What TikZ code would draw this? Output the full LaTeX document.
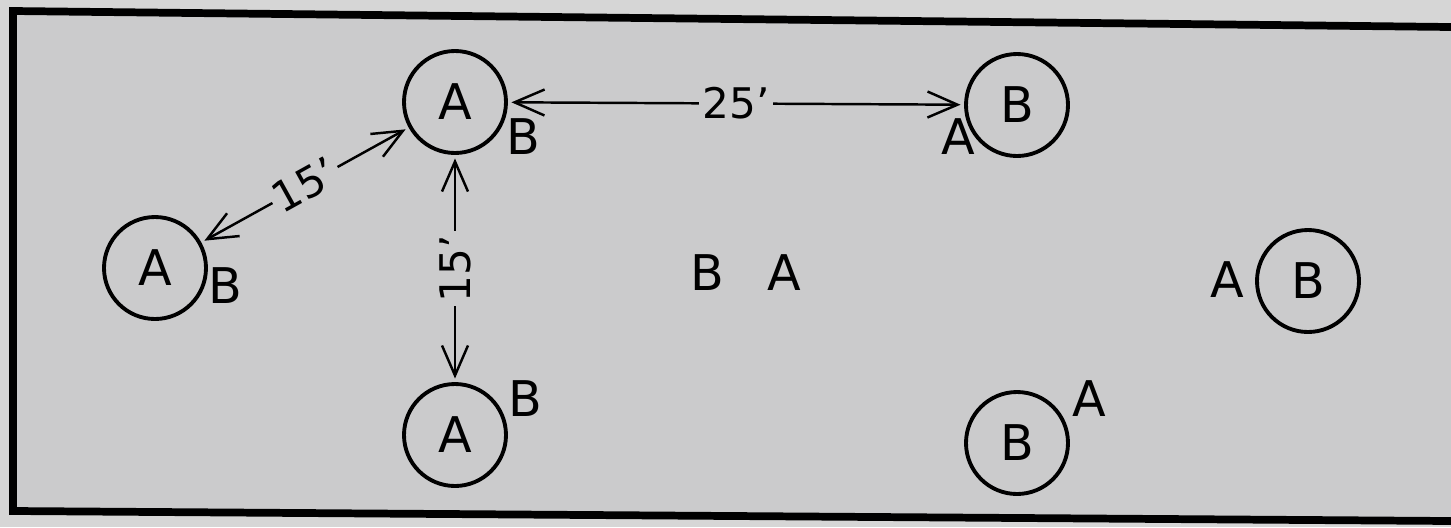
\documentclass[tikz,border=0pt]{standalone}
\usepackage{fontspec}
\setmainfont{DejaVu Sans}
\usetikzlibrary{arrows.meta,positioning}
\definecolor{paper}{RGB}{214,214,214}
\definecolor{board}{RGB}{203,203,204}

\begin{document}
\begin{tikzpicture}[
    player/.style={circle, draw, line width=1.1pt, minimum size=1.02cm, inner sep=0pt, font=\fontsize{14}{16}\selectfont},
    side/.style={inner sep=0pt, font=\fontsize{14}{16}\selectfont},
    dist/.style={<->, line width=0.7pt, shorten <=1pt, shorten >=1pt},
    len/.style={fill=board, inner sep=1pt, font=\fontsize{12}{14}\selectfont},
    >={Straight Barb[length=3mm,width=2.6mm]}
]
\useasboundingbox (0,0) rectangle (14.51,5.27);
\fill[paper] (0,0) rectangle (14.51,5.27);
\fill[board] (0.13,5.16) -- (14.51,5.0) -- (14.51,0.06) -- (0.13,0.16) -- cycle;

% frame
\draw[line width=2.2pt] (14.51,5.0) -- (0.13,5.16) -- (0.13,0.16) -- (14.51,0.06);

% A side
\node[player] (aTop) at (4.55,4.25) {A};
\node[player] (aLeft) at (1.55,2.59) {A};
\node[player] (aBot) at (4.55,0.92) {A};
\node[side] (aTopB) at ([shift={(0.68,-0.35)}]aTop.center) {B};
\node[side] (aLeftB) at ([shift={(0.70,-0.18)}]aLeft.center) {B};
\node[side] (aBotB) at ([shift={(0.70,0.36)}]aBot.center) {B};

% B side
\node[player] (bTop) at (10.17,4.22) {B};
\node[player] (bRight) at (13.08,2.46) {B};
\node[player] (bBot) at (10.17,0.84) {B};
\node[side] (bTopA) at ([shift={(-0.59,-0.32)}]bTop.center) {A};
\node[side] (bRightA) at ([shift={(-0.81,0.01)}]bRight.center) {A};
\node[side] (bBotA) at ([shift={(0.72,0.44)}]bBot.center) {A};

% middle
\node[side] (midB) at (7.07,2.54) {B};
\node[side] (midA) at (7.84,2.54) {A};

% distances
\draw[dist] (aTop) -- (bTop) node[len, midway] {25'};
\draw[dist] (aLeft) -- (aTop) node[len, midway, sloped] {15'};
\draw[dist] (aBot) -- (aTop) node[len, midway, sloped] {15'};

\end{tikzpicture}
\end{document}
